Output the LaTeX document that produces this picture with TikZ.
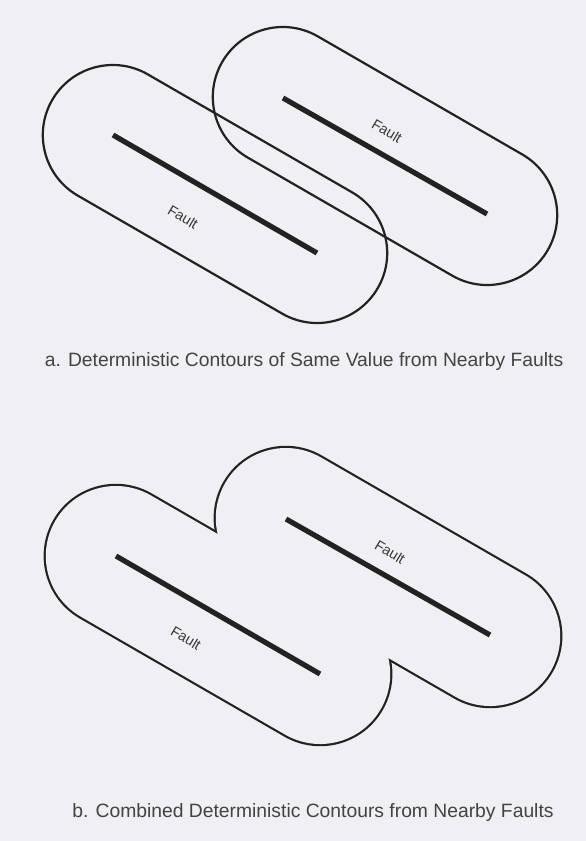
\documentclass[tikz,border=0pt]{standalone}
\usepackage{fontspec}
\setmainfont{Liberation Sans}
\usetikzlibrary{shapes.misc}
\definecolor{paper}{HTML}{EFEFF4}
\definecolor{ink}{HTML}{222222}

\begin{document}
\begin{tikzpicture}[x=1pt, y=-1pt,
  zone/.style={rounded rectangle, draw=ink, line width=2.2pt,
    minimum width=376pt, minimum height=140pt, inner sep=0pt, rotate=-30},
  fault/.style={ink, line width=5.2pt},
  lbl/.style={font=\fontsize{14.5}{17}\selectfont, text=ink!90, rotate=-31},
  captxt/.style={font=\fontsize{19.3}{23}\selectfont, text=ink!85}
]
  \fill[paper] (0,0) rectangle (586,841);

  % a. separate contours
  \node[zone] (zone1a) at (215,194) {};
  \node[zone] (zone2a) at (385,156) {};
  \coordinate (f1s) at (113,135);
  \coordinate (f1e) at (317,253);
  \coordinate (f2s) at (283,98);
  \coordinate (f2e) at (487,214);
  \draw[fault] (f1s) -- (f1e);
  \draw[fault] (f2s) -- (f2e);
  \node[lbl] (lbl1a) at (183,217) {Fault};
  \node[lbl] (lbl2a) at (387,131) {Fault};
  \node[captxt] (capa) at (304,362)
    {a. Deterministic Contours of Same Value from Nearby Faults};

  % b. combined contour (outline both, then fill the insides)
  \node[zone, line width=4.4pt] (zone1b) at (218,615) {};
  \node[zone, line width=4.4pt] (zone2b) at (388,577) {};
  \node[zone, draw=none, fill=paper] (core1b) at (218,615) {};
  \node[zone, draw=none, fill=paper] (core2b) at (388,577) {};
  \coordinate (f3s) at (116,556);
  \coordinate (f3e) at (320,674);
  \coordinate (f4s) at (286,519);
  \coordinate (f4e) at (490,635);
  \draw[fault] (f3s) -- (f3e);
  \draw[fault] (f4s) -- (f4e);
  \node[lbl] (lbl1b) at (186,638) {Fault};
  \node[lbl] (lbl2b) at (390,552) {Fault};
  \node[captxt] (capb) at (313,812)
    {b. Combined Deterministic Contours from Nearby Faults};
\end{tikzpicture}
\end{document}
